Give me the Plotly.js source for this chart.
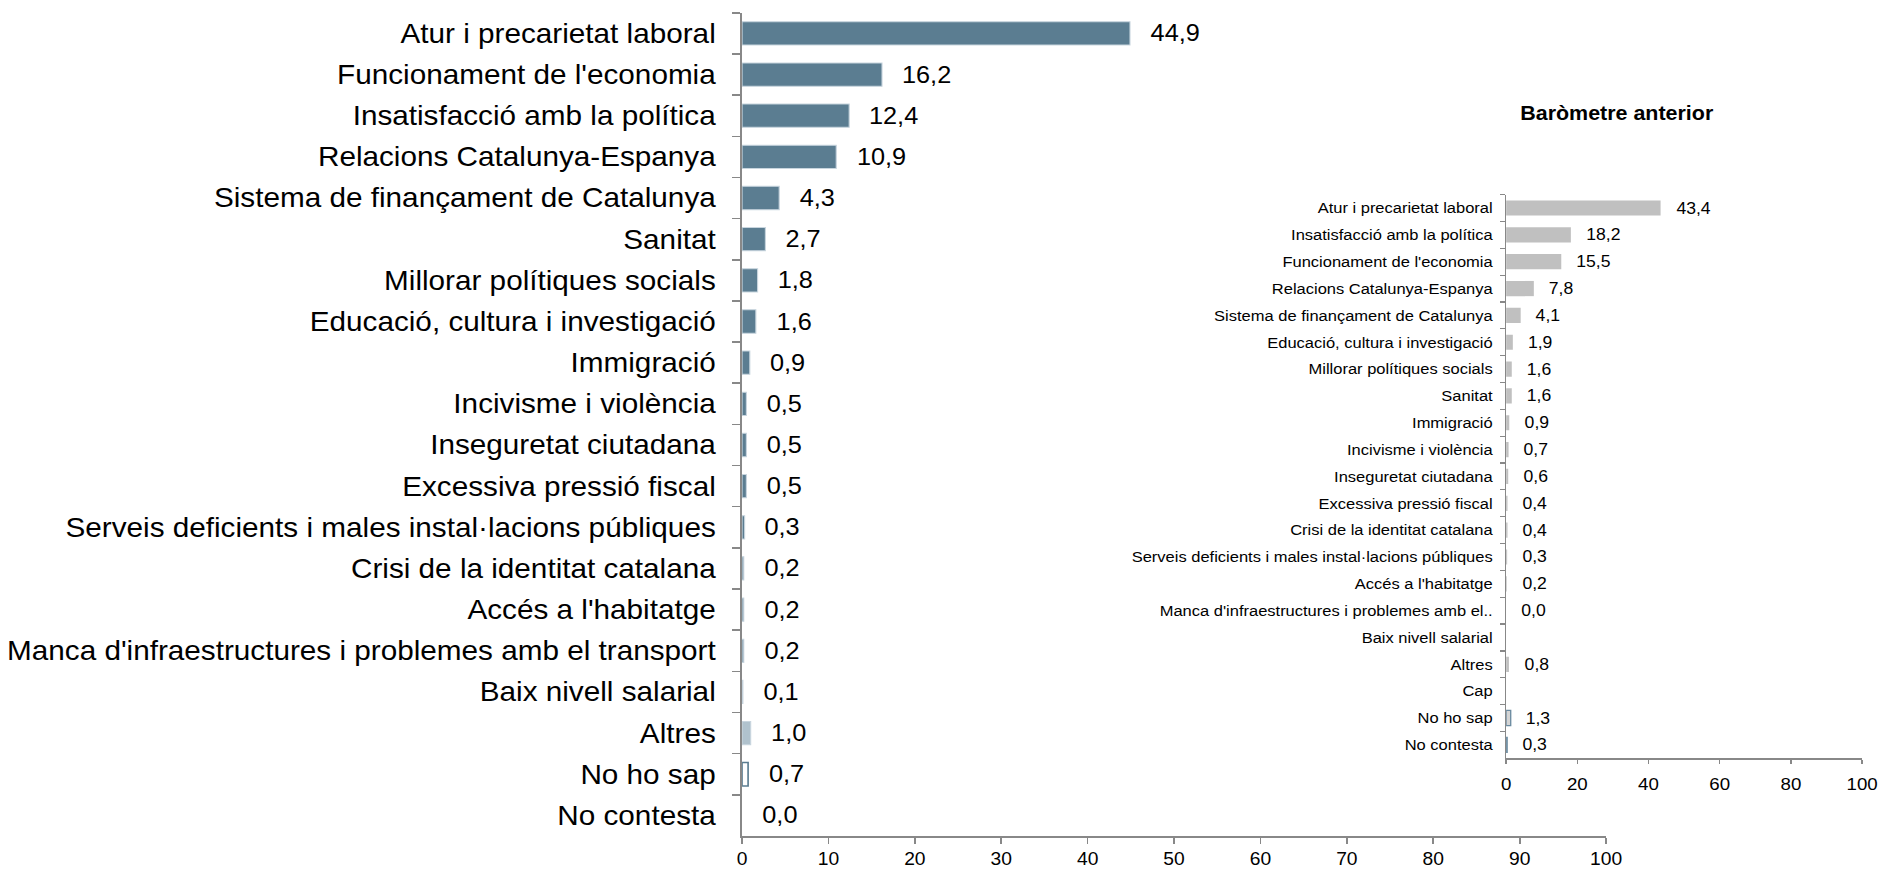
<!DOCTYPE html>
<html>
<head>
<meta charset="utf-8">
<script src="https://cdn.plot.ly/plotly-3.0.1.min.js"></script>
<style>
html, body { margin: 0; padding: 0; background: #fff; overflow: hidden; }
#chart { width: 1711px; height: 870px; transform: scaleX(1.1); transform-origin: 0 0; }
</style>
</head>
<body>
<div id="chart"></div>
<script>
// Current barometer
const categories = [
  "Atur i precarietat laboral",
  "Funcionament de l'economia",
  "Insatisfacció amb la política",
  "Relacions Catalunya-Espanya",
  "Sistema de finançament de Catalunya",
  "Sanitat",
  "Millorar polítiques socials",
  "Educació, cultura i investigació",
  "Immigració",
  "Incivisme i violència",
  "Inseguretat ciutadana",
  "Excessiva pressió fiscal",
  "Serveis deficients i males instal·lacions públiques",
  "Crisi de la identitat catalana",
  "Accés a l'habitatge",
  "Manca d'infraestructures i problemes amb el transport",
  "Baix nivell salarial",
  "Altres",
  "No ho sap",
  "No contesta"
];
const values = [44.9, 16.2, 12.4, 10.9, 4.3, 2.7, 1.8, 1.6, 0.9, 0.5, 0.5, 0.5, 0.3, 0.2, 0.2, 0.2, 0.1, 1.0, 0.7, 0.0];

// Previous barometer
const prevCategories = [
  "Atur i precarietat laboral",
  "Insatisfacció amb la política",
  "Funcionament de l'economia",
  "Relacions Catalunya-Espanya",
  "Sistema de finançament de Catalunya",
  "Educació, cultura i investigació",
  "Millorar polítiques socials",
  "Sanitat",
  "Immigració",
  "Incivisme i violència",
  "Inseguretat ciutadana",
  "Excessiva pressió fiscal",
  "Crisi de la identitat catalana",
  "Serveis deficients i males instal·lacions públiques",
  "Accés a l'habitatge",
  "Manca d'infraestructures i problemes amb el..",
  "Baix nivell salarial",
  "Altres",
  "Cap",
  "No ho sap",
  "No contesta"
];
const prevValues = [43.4, 18.2, 15.5, 7.8, 4.1, 1.9, 1.6, 1.6, 0.9, 0.7, 0.6, 0.4, 0.4, 0.3, 0.2, 0.0, null, 0.8, null, 1.3, 0.3];

const mainTicks = [0, 10, 20, 30, 40, 50, 60, 70, 80, 90, 100];
const prevTicks = [0, 20, 40, 60, 80, 100];
const insetTitle = "Baròmetre anterior";

const FONT = "Liberation Sans, Arial, sans-serif";
const fmt = v => v.toFixed(1).replace('.', ',');

const BLUE = '#5b7d91';
const mainColors = categories.map(c => c === 'Altres' ? '#b0c2cd' : (c === 'No ho sap' ? '#ffffff' : BLUE));
const mainLineColors = categories.map(c => c === 'No ho sap' ? BLUE : '#c8d5de');
const mainLineWidths = categories.map((c, i) => values[i] === 0 ? 0 : (c === 'No ho sap' ? 1.5 : 1));

const prevColors = prevCategories.map(c => c === 'No ho sap' ? '#d4d4d4' : (c === 'No contesta' ? '#ffffff' : '#c0c0c0'));
const prevLineColors = prevCategories.map(c => (c === 'No ho sap' || c === 'No contesta') ? '#6a8aa0' : '#c0c0c0');
const prevLineWidths = prevCategories.map(c => (c === 'No ho sap' || c === 'No contesta') ? 1.2 : 0);

const traces = [
  {
    type: 'bar', orientation: 'h', x: values, y: categories,
    xaxis: 'x', yaxis: 'y',
    marker: { color: mainColors, line: { color: mainLineColors, width: mainLineWidths } },
    hoverinfo: 'skip'
  },
  {
    type: 'bar', orientation: 'h', x: prevValues, y: prevCategories,
    xaxis: 'x2', yaxis: 'y2',
    marker: { color: prevColors, line: { color: prevLineColors, width: prevLineWidths } },
    hoverinfo: 'skip'
  }
];

const annotations = [];
values.forEach((v, i) => {
  if (v === null) return;
  annotations.push({ xref: 'x', yref: 'y', x: v, y: categories[i], text: fmt(v), showarrow: false,
    xanchor: 'left', yanchor: 'middle', xshift: 16.5, font: { family: FONT, size: 23, color: '#000' } });
});
prevValues.forEach((v, i) => {
  if (v === null) return;
  annotations.push({ xref: 'x2', yref: 'y2', x: v, y: prevCategories[i], text: fmt(v), showarrow: false,
    xanchor: 'left', yanchor: 'middle', xshift: 12, font: { family: FONT, size: 16, color: '#000' } });
});
annotations.push({ xref: 'paper', yref: 'paper', x: 1617 / 1882, y: 1 - 113 / 870, text: '<b>' + insetTitle + '</b>',
  showarrow: false, xanchor: 'center', yanchor: 'middle', font: { family: FONT, size: 19.5, color: '#000' } });

const axisLine = '#888888';
const layout = {
  width: 1711, height: 870,
  margin: { l: 0, r: 0, t: 0, b: 0 },
  paper_bgcolor: '#ffffff', plot_bgcolor: 'rgba(0,0,0,0)',
  showlegend: false,
  bargap: 0.434,
  font: { family: FONT, color: '#000' },
  xaxis: {
    domain: [742 / 1882, 1606 / 1882], range: [0, 100], tickvals: mainTicks, ticktext: mainTicks.map(String),
    showgrid: false, zeroline: false, showline: true, linecolor: axisLine, linewidth: 1.5,
    ticks: 'outside', ticklen: 6, tickwidth: 1.5, tickcolor: axisLine, ticklabelstandoff: 1,
    tickfont: { family: FONT, size: 17.5, color: '#000' }, anchor: 'y', fixedrange: true
  },
  yaxis: {
    domain: [1 - 836 / 870, 1 - 12.8 / 870], type: 'category', categoryorder: 'array', categoryarray: categories,
    range: [categories.length - 0.5, -0.5],
    showgrid: false, zeroline: false, showline: true, linecolor: axisLine, linewidth: 1.5,
    ticks: 'outside', tickson: 'boundaries', ticklen: 8, tickwidth: 1.5, tickcolor: axisLine, ticklabelstandoff: 17,
    tickfont: { family: FONT, size: 27, color: '#000' }, anchor: 'x', fixedrange: true
  },
  xaxis2: {
    domain: [1506 / 1882, 1862 / 1882], range: [0, 100], tickvals: prevTicks, ticktext: prevTicks.map(String),
    showgrid: false, zeroline: false, showline: true, linecolor: axisLine, linewidth: 1.2,
    ticks: 'outside', ticklen: 4, tickwidth: 1.2, tickcolor: axisLine, ticklabelstandoff: 6,
    tickfont: { family: FONT, size: 17, color: '#000' }, anchor: 'y2', fixedrange: true
  },
  yaxis2: {
    domain: [1 - 758.3 / 870, 1 - 194.6 / 870], type: 'category', categoryorder: 'array', categoryarray: prevCategories,
    range: [prevCategories.length - 0.5, -0.5],
    showgrid: false, zeroline: false, showline: true, linecolor: axisLine, linewidth: 1.2,
    ticks: 'outside', tickson: 'boundaries', ticklen: 4, tickwidth: 1.2, tickcolor: axisLine, ticklabelstandoff: 8,
    tickfont: { family: FONT, size: 15, color: '#000' }, anchor: 'x2', fixedrange: true
  },
  annotations: annotations
};

Plotly.newPlot('chart', traces, layout, { displayModeBar: false, staticPlot: true });
</script>
</body>
</html>
